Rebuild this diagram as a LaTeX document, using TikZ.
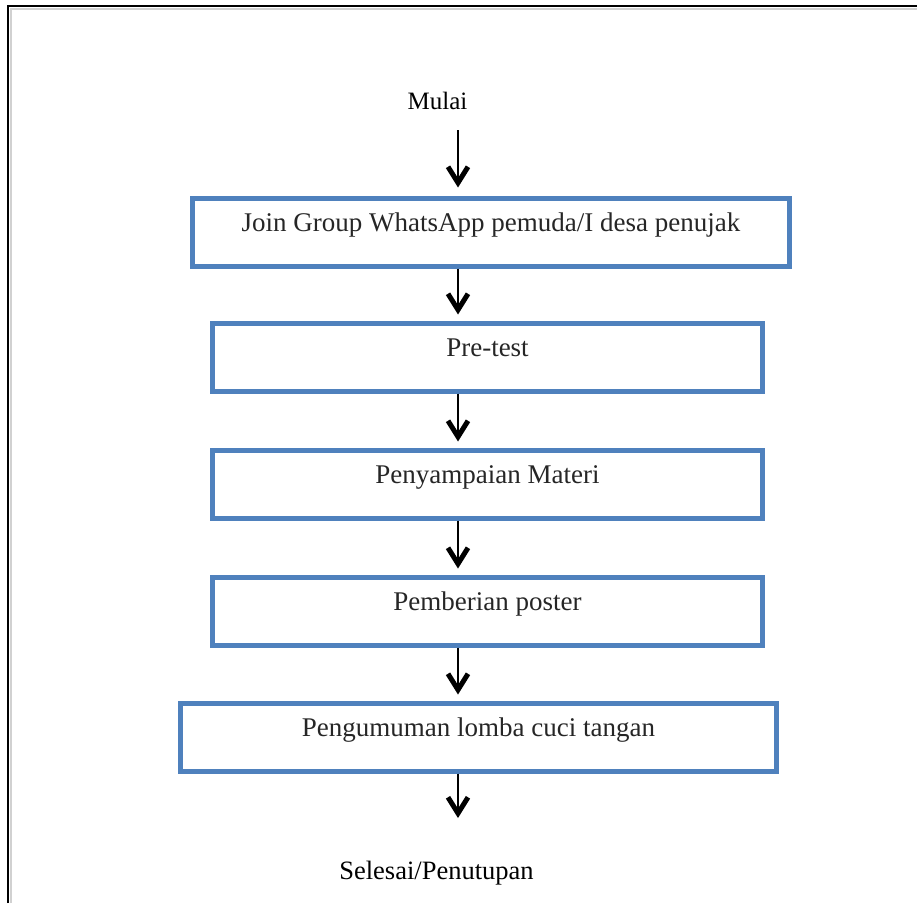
\documentclass[tikz,border=0pt]{standalone}
\usepackage{fontspec}
\setmainfont{Liberation Serif}
\usetikzlibrary{arrows.meta}
\definecolor{boxblue}{RGB}{79,129,189}

\begin{document}
\begin{tikzpicture}[x=1pt,y=-1pt,
		stepbox/.style={draw=boxblue,line width=5pt,anchor=north,inner xsep=0pt,inner ysep=0pt,
			text height=33pt,text depth=35pt,font=\fontsize{27}{32}\selectfont,text=black!85},
		flow/.style={line width=1.6pt,-{Straight Barb[length=16pt,width=20pt,line width=5pt 0,sharp]},shorten >=6pt}]
		\useasboundingbox (0,0) rectangle (917,903);
		% Frame
		\draw[line width=2pt,black!18] (10.5,903)--(10.5,8.5)--(917,8.5);
		\draw[line width=2.5pt] (8,903)--(8,6)--(917,6);
		% Coordinates
		\coordinate (spine) at (458,0);
		\coordinate (start) at (458,130);
		\coordinate (stop) at (458,818);
		% Start & end labels
		\node[font=\fontsize{25}{30}\selectfont,anchor=base] (mulai) at (437.5,109) {Mulai};
		\node[font=\fontsize{26.5}{31}\selectfont,anchor=base] (selesai) at (436.5,879) {Selesai/Penutupan};
		% Steps
		\node[stepbox,minimum width=597pt] (join) at (491,195.5) {Join Group WhatsApp pemuda/I desa penujak};
		\node[stepbox,minimum width=550pt] (pretest) at (487.5,320.5) {Pre-test};
		\node[stepbox,minimum width=550pt] (materi) at (487.5,447.5) {Penyampaian Materi};
		\node[stepbox,minimum width=550pt] (poster) at (487.5,574.5) {Pemberian poster};
		\node[stepbox,minimum width=596pt] (lomba) at (478.5,700.5) {Pengumuman lomba cuci tangan};
		% Arrows
		\draw[flow,shorten >=8pt] (start) -- (join.north -| spine);
		\foreach \a/\b in {join/pretest,pretest/materi,materi/poster,poster/lomba}{
				\draw[flow] (\a.south -| spine) -- (\b.north -| spine);
			}
		\draw[flow,shorten >=0pt] (lomba.south -| spine) -- (stop);
	\end{tikzpicture}
\end{document}
